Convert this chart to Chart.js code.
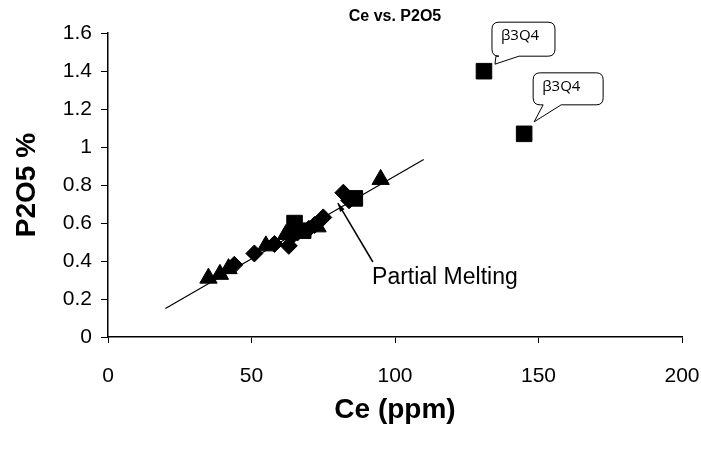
<!DOCTYPE html>
<html>
<head>
<meta charset="utf-8">
<script src="https://cdn.jsdelivr.net/npm/chart.js@4"></script>
<style>
  html, body { margin: 0; padding: 0; background: #fff; }
  #wrap { width: 701px; height: 452px; }
</style>
</head>
<body>
<div id="wrap"><canvas id="chart" width="701" height="452"></canvas></div>
<script>
// 系列データ
const diamondCe = [44, 51, 58, 63, 64, 66, 70, 72, 75, 82, 84];
const diamondP = [0.38, 0.44, 0.49, 0.48, 0.53, 0.55, 0.57, 0.59, 0.63, 0.76, 0.72];
const squareCe = [65, 68, 86, 131, 145];
const squareP = [0.60, 0.56, 0.73, 1.40, 1.07];
const triangleCe = [35, 39, 42, 55, 62, 73, 95];
const triangleP = [0.31, 0.33, 0.36, 0.48, 0.54, 0.58, 0.83];

// 傾向線
const trendCe = [20, 110];
const trendP = [0.15, 0.935];

// 注記（矢印とラベル）
const arrowCe = [92.3, 80.1];   // 始点, 先端
const arrowP = [0.395, 0.705];
const meltLabel = 'Partial Melting';
const meltLabelAt = [92, 0.31];

// 吹き出し（square系列の点に付ける）
const calloutText = ['β3Q4', 'β3Q4'];
const calloutIndex = [3, 4];

// 目盛りラベル
const xTickLabels = ['0', '50', '100', '150', '200'];
const yTickLabels = ['0', '0.2', '0.4', '0.6', '0.8', '1', '1.2', '1.4', '1.6'];

const toPoints = (xs, ys) => xs.map((x, i) => ({ x: x, y: ys[i] }));
const FONT = '"Liberation Sans", Arial, sans-serif';

/**
 * 矢印・吹き出しを描くプラグイン
 */
const notesPlugin = {
    id: 'notes',
    afterDatasetsDraw(chart) {
        const ctx = chart.ctx;
        const xs = chart.scales.x;
        const ys = chart.scales.y;
        ctx.save();

        // 矢印
        const x0 = xs.getPixelForValue(arrowCe[0]), y0 = ys.getPixelForValue(arrowP[0]);
        const x1 = xs.getPixelForValue(arrowCe[1]), y1 = ys.getPixelForValue(arrowP[1]);
        ctx.strokeStyle = '#000';
        ctx.lineWidth = 1.5;
        ctx.beginPath();
        ctx.moveTo(x0, y0);
        ctx.lineTo(x1, y1);
        ctx.stroke();
        const ang = Math.atan2(y1 - y0, x1 - x0);
        ctx.beginPath();
        ctx.moveTo(x1, y1);
        ctx.lineTo(x1 - 9 * Math.cos(ang - 0.3), y1 - 9 * Math.sin(ang - 0.3));
        ctx.lineTo(x1 - 9 * Math.cos(ang + 0.3), y1 - 9 * Math.sin(ang + 0.3));
        ctx.closePath();
        ctx.fillStyle = '#000';
        ctx.fill();

        ctx.font = '23px ' + FONT;
        ctx.textBaseline = 'middle';
        ctx.textAlign = 'left';
        ctx.fillText(meltLabel, xs.getPixelForValue(meltLabelAt[0]), ys.getPixelForValue(meltLabelAt[1]));

        // 吹き出し
        const shapes = [
            { dx: 8, dy: -49, w: 63, h: 34, tip: [11, -7], base: [12, 35] },
            { dx: 9, dy: -61, w: 70, h: 32, tip: [10, -12], base: [19, 37] }
        ];
        calloutIndex.forEach((idx, k) => {
            const px = xs.getPixelForValue(squareCe[idx]);
            const py = ys.getPixelForValue(squareP[idx]);
            const s = shapes[k];
            const l = px + s.dx, t = py + s.dy, r = l + s.w, b = t + s.h, rad = 7;
            ctx.beginPath();
            ctx.moveTo(l + rad, t);
            ctx.lineTo(r - rad, t);
            ctx.quadraticCurveTo(r, t, r, t + rad);
            ctx.lineTo(r, b - rad);
            ctx.quadraticCurveTo(r, b, r - rad, b);
            ctx.lineTo(px + s.base[1], b);
            ctx.lineTo(px + s.tip[0], py + s.tip[1]);
            ctx.lineTo(px + s.base[0], b);
            ctx.lineTo(l + rad, b);
            ctx.quadraticCurveTo(l, b, l, b - rad);
            ctx.lineTo(l, t + rad);
            ctx.quadraticCurveTo(l, t, l + rad, t);
            ctx.closePath();
            ctx.fillStyle = '#fff';
            ctx.fill();
            ctx.lineWidth = 1;
            ctx.strokeStyle = '#000';
            ctx.stroke();
            ctx.fillStyle = '#000';
            ctx.font = '15px "Open Sans", "Noto Sans", sans-serif';
            ctx.textAlign = 'left';
            ctx.fillText(calloutText[k], l + 9, t + 14);
        });
        ctx.restore();
    }
};

const markerBase = {
    backgroundColor: '#000',
    borderColor: '#000',
    borderWidth: 1,
    showLine: false
};

new Chart(document.getElementById('chart'), {
    type: 'scatter',
    data: {
        datasets: [
            Object.assign({ label: 'diamond', data: toPoints(diamondCe, diamondP), pointStyle: 'rectRot', pointRadius: 8.5 }, markerBase),
            Object.assign({ label: 'square', data: toPoints(squareCe, squareP), pointStyle: 'rect', pointRadius: 11 }, markerBase),
            Object.assign({ label: 'triangle', data: toPoints(triangleCe, triangleP), pointStyle: 'triangle', pointRadius: 10 }, markerBase),
            {
                label: 'trend',
                data: toPoints(trendCe, trendP),
                showLine: true,
                borderColor: '#000',
                borderWidth: 1.2,
                pointRadius: 0
            }
        ]
    },
    options: {
        responsive: false,
        animation: false,
        layout: { padding: { top: 0, right: 19, bottom: 0, left: 0 } },
        plugins: {
            legend: { display: false },
            tooltip: { enabled: false },
            title: {
                display: true,
                text: 'Ce vs. P2O5',
                fullSize: false,
                color: '#000',
                font: { family: FONT, size: 16, weight: 'bold' },
                padding: { top: 7, bottom: 7 }
            }
        },
        scales: {
            x: {
                type: 'linear',
                min: 0,
                max: 200,
                afterFit(scale) {
                    scale.height = 115;
                    scale.paddingLeft = 0;
                    scale.paddingRight = 0;
                },
                afterBuildTicks(scale) { scale.ticks = xTickLabels.map(v => ({ value: +v })); },
                ticks: {
                    stepSize: 50,
                    color: '#000',
                    padding: 21,
                    maxRotation: 0,
                    font: { family: FONT, size: 21 },
                    callback: (v, i) => xTickLabels[i]
                },
                grid: { drawOnChartArea: false, drawTicks: true, tickLength: 6, color: '#000' },
                border: { color: '#000', width: 1.5 },
                title: {
                    display: true,
                    text: 'Ce (ppm)',
                    color: '#000',
                    font: { family: FONT, size: 28, weight: 'bold' },
                    padding: { top: 0, bottom: 25 }
                }
            },
            y: {
                type: 'linear',
                min: 0,
                max: 1.6,
                afterFit(scale) { scale.width = 108; },
                afterBuildTicks(scale) { scale.ticks = yTickLabels.map(v => ({ value: +v })); },
                ticks: {
                    stepSize: 0.2,
                    color: '#000',
                    padding: 9,
                    font: { family: FONT, size: 21 },
                    callback: (v, i) => yTickLabels[i]
                },
                grid: { drawOnChartArea: false, drawTicks: true, tickLength: 7, color: '#000' },
                border: { color: '#000', width: 1.5 },
                title: {
                    display: true,
                    text: 'P2O5 %',
                    color: '#000',
                    font: { family: FONT, size: 28, weight: 'bold' },
                    padding: { top: 10, bottom: 0 }
                }
            }
        }
    },
    plugins: [notesPlugin]
});
</script>
</body>
</html>
